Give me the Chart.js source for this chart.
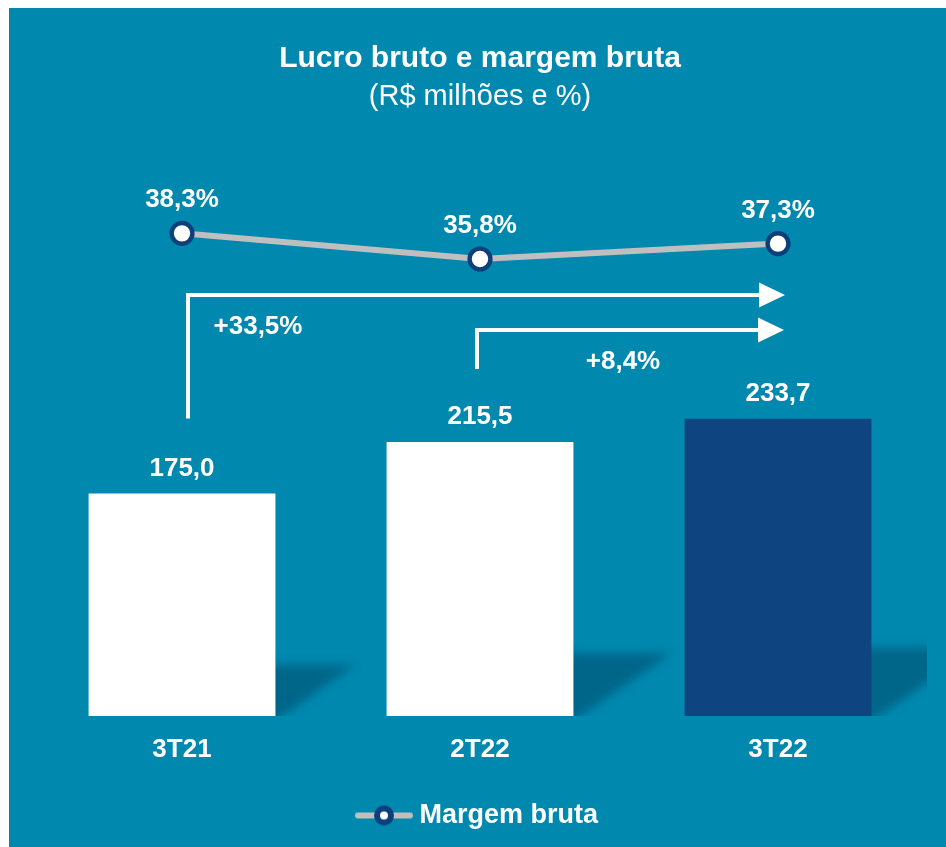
<!DOCTYPE html>
<html>
<head>
<meta charset="utf-8">
<script src="https://cdn.jsdelivr.net/npm/chart.js@4.4.1/dist/chart.umd.min.js"></script>
<style>
  html, body { margin: 0; padding: 0; background: #fff; }
  canvas { display: block; }
</style>
</head>
<body>
<canvas id="lucroChart" width="946" height="847"></canvas>
<script>
// === Data ===
const periods = ['3T21', '2T22', '3T22'];
const lucroBruto = [175.0, 215.5, 233.7];   // R$ milhões
const margemBruta = [38.3, 35.8, 37.3];      // %
const barColors = ['#ffffff', '#ffffff', '#0e4580'];

const FONT = "'Liberation Sans', Arial, Helvetica, sans-serif";
const TEAL = '#0088af';
const NAVY = '#0d3f7a';
const GRAY = '#bfbfbf';

const fmt = (v, d) => v.toFixed(d).replace('.', ',');
const growth = (from, to) => '+' + fmt((to / from - 1) * 100, 1) + '%';

// legend icon: gray line with the marker in the middle
const legendIcon = document.createElement('canvas');
legendIcon.width = 58;
legendIcon.height = 24;
(function () {
    const g = legendIcon.getContext('2d');
    g.strokeStyle = GRAY;
    g.lineWidth = 6;
    g.lineCap = 'round';
    g.beginPath(); g.moveTo(3, 12); g.lineTo(55, 12); g.stroke();
    g.beginPath(); g.arc(29, 12, 7, 0, Math.PI * 2);
    g.fillStyle = '#fff'; g.fill();
    g.strokeStyle = NAVY; g.lineWidth = 6; g.stroke();
})();

// === Plugins ===
const panelBackground = {
    id: 'panelBackground',
    beforeDraw(chart) {
        const ctx = chart.ctx;
        ctx.save();
        ctx.fillStyle = '#fff';
        ctx.fillRect(0, 0, chart.width, chart.height);
        ctx.fillStyle = TEAL;
        ctx.fillRect(9, 8, chart.width - 9, chart.height - 8);
        ctx.restore();
    }
};

// soft diagonal shadow to the right of each bar
const barShadows = {
    id: 'barShadows',
    beforeDatasetsDraw(chart) {
        const ctx = chart.ctx;
        const area = chart.chartArea;
        chart.getDatasetMeta(0).data.forEach(bar => {
            const p = bar.getProps(['x', 'y', 'base', 'width'], true);
            const right = p.x + p.width / 2;
            const h = (p.base - p.y) * 0.23;
            const w = h * 1.55;
            ctx.save();
            ctx.beginPath();
            ctx.rect(area.left, area.top, area.right - area.left, p.base - area.top);
            ctx.clip();
            ctx.filter = 'blur(5px)';
            ctx.fillStyle = 'rgba(0, 55, 85, 0.42)';
            ctx.beginPath();
            ctx.moveTo(right - 10, p.base - h);
            ctx.lineTo(right + w, p.base - h);
            ctx.lineTo(right - 10, p.base + 12);
            ctx.closePath();
            ctx.fill();
            ctx.restore();
        });
    }
};

function drawArrow(ctx, x, yBottom, yLevel, xTip) {
    ctx.beginPath();
    ctx.moveTo(x, yBottom);
    ctx.lineTo(x, yLevel);
    ctx.lineTo(xTip - 24, yLevel);
    ctx.stroke();
    ctx.beginPath();
    ctx.moveTo(xTip, yLevel);
    ctx.lineTo(xTip - 26, yLevel - 12.5);
    ctx.lineTo(xTip - 26, yLevel + 12.5);
    ctx.closePath();
    ctx.fill();
}

const valueLabels = {
    id: 'valueLabels',
    afterDatasetsDraw(chart) {
        const ctx = chart.ctx;
        const bars = chart.getDatasetMeta(0).data;
        const points = chart.getDatasetMeta(1).data;
        ctx.save();
        ctx.fillStyle = '#fff';
        ctx.strokeStyle = '#fff';
        ctx.font = 'bold 26px ' + FONT;
        ctx.textAlign = 'center';
        ctx.textBaseline = 'middle';

        bars.forEach((b, i) => ctx.fillText(fmt(lucroBruto[i], 1), b.x, b.y - 25));
        points.forEach((p, i) => ctx.fillText(fmt(margemBruta[i], 1) + '%', p.x, p.y - 33));

        // growth arrows towards the last quarter
        const last = bars.length - 1;
        ctx.lineWidth = 4;
        drawArrow(ctx, bars[0].x + 6, bars[0].y - 75, 295, bars[last].x + 7);
        drawArrow(ctx, bars[1].x - 3, bars[1].y - 73, 330, bars[last].x + 6);
        ctx.fillText(growth(lucroBruto[0], lucroBruto[last]), bars[0].x + 76, 327);
        ctx.fillText(growth(lucroBruto[1], lucroBruto[last]), bars[1].x + 143, 362);
        ctx.restore();
    }
};

// === Chart ===
const ctxLucro = document.getElementById('lucroChart');
new Chart(ctxLucro, {
    type: 'bar',
    data: {
        labels: periods,
        datasets: [
            {
                type: 'bar',
                label: 'Lucro bruto',
                data: lucroBruto,
                backgroundColor: barColors,
                borderWidth: 0,
                barPercentage: 0.627,
                categoryPercentage: 1,
                yAxisID: 'y',
                order: 2
            },
            {
                type: 'line',
                label: 'Margem bruta',
                data: margemBruta,
                borderColor: GRAY,
                borderWidth: 6,
                pointRadius: 10.4,
                pointBorderWidth: 4.4,
                pointBorderColor: NAVY,
                pointBackgroundColor: '#fff',
                tension: 0,
                yAxisID: 'y1',
                order: 1
            }
        ]
    },
    options: {
        responsive: false,
        animation: false,
        events: [],
        layout: { padding: { left: 33, right: 19, top: 0, bottom: 8 } },
        scales: {
            x: {
                grid: { display: false, drawTicks: false },
                border: { display: false },
                ticks: { color: '#fff', padding: 18.4, font: { family: FONT, size: 26, weight: 'bold' } },
                afterFit: scale => { scale.height = 76; }
            },
            y: { display: false, min: 0, max: 453 },
            y1: { display: false, min: -8.66, max: 47.38 }
        },
        plugins: {
            title: {
                display: true,
                text: 'Lucro bruto e margem bruta',
                color: '#fff',
                font: { family: FONT, size: 30, weight: 'bold', lineHeight: 1.2 },
                padding: { top: 41, bottom: 0 }
            },
            subtitle: {
                display: true,
                text: '(R$ milhões e %)',
                color: '#fff',
                font: { family: FONT, size: 29, weight: 'normal', lineHeight: 1.2 },
                padding: { top: 2.1, bottom: 26.1 }
            },
            legend: {
                position: 'bottom',
                labels: {
                    color: '#fff',
                    font: { family: FONT, size: 27, weight: 'bold' },
                    usePointStyle: true,
                    pointStyleWidth: 44,
                    padding: 10,
                    filter: item => item.datasetIndex === 1,
                    generateLabels: chart => Chart.defaults.plugins.legend.labels.generateLabels(chart)
                        .map(l => ({ ...l, pointStyle: legendIcon }))
                }
            },
            tooltip: { enabled: false }
        }
    },
    plugins: [panelBackground, barShadows, valueLabels]
});
</script>
</body>
</html>
